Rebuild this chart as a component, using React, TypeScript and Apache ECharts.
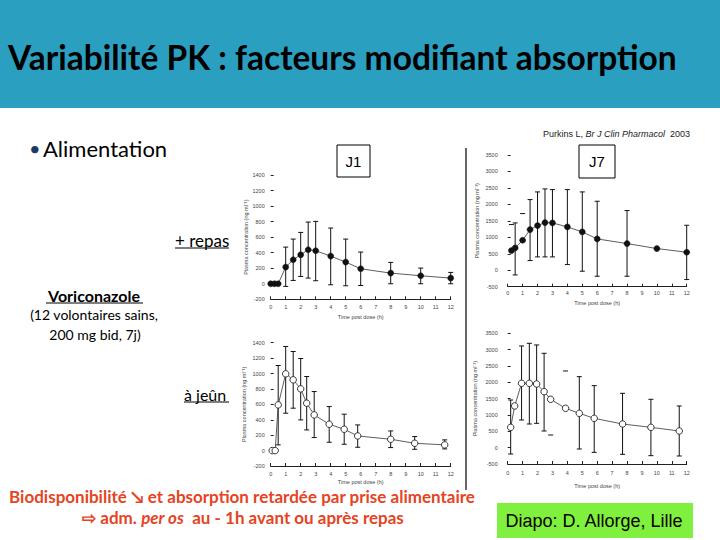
import React, { useEffect, useRef } from "react";
import * as echarts from "echarts";

// ---- Data ----
const hourTicks = [0, 1, 2, 3, 4, 5, 6, 7, 8, 9, 10, 11, 12];

// J1, + repas (fed), day 1
const fedJ1Time = [0, 0.25, 0.5, 1, 1.5, 2, 2.5, 3, 4, 5, 6, 8, 10, 12];
const fedJ1Mean = [0, 0, 0, 215, 309, 373, 438, 425, 356, 279, 193, 137, 103, 73];
const fedJ1Low = [null, null, null, -34, 43, 94, 73, 39, -13, -26, -22, 0, 0, 0];
const fedJ1High = [null, null, null, 472, 575, 661, 794, 803, 717, 575, 408, 275, 202, 146];

// J7, + repas (fed), day 7
const fedJ7Time = [0.25, 0.5, 1, 1.5, 2, 2.5, 3, 4, 5, 6, 8, 10, 12];
const fedJ7Mean = [597, 678, 911, 1235, 1356, 1447, 1437, 1316, 1164, 951, 810, 658, 547];
const fedJ7Low = [null, -142, null, 294, 405, 405, 405, 172, -30, -182, -182, null, -283];
const fedJ7High = [1387, 1437, 1721, 2146, 2379, 2470, 2449, 2449, 2379, 2095, 1812, null, 1366];

// J1, à jeûn (fasted), day 1
const fastJ1Time = [0.1, 0.3, 0.5, 1, 1.5, 2, 2.4, 2.9, 3.9, 4.9, 5.8, 8, 9.6, 11.6];
const fastJ1Mean = [0, 0, 593, 996, 918, 801, 615, 463, 342, 277, 190, 147, 95, 74];
const fastJ1Low = [null, null, 74, 485, 550, 398, 268, 169, 108, 82, 43, 39, 17, 22];
const fastJ1High = [null, null, 1104, 1351, 1286, 1195, 961, 766, 571, 472, 333, 255, 182, 139];

// J7, à jeûn (fasted), day 7
const fastJ7Time = [0.2, 0.47, 0.93, 1.45, 1.94, 2.44, 2.88, 3.88, 4.8, 5.8, 7.7, 9.6, 11.5];
const fastJ7Mean = [622, 1276, 1969, 1969, 1949, 1714, 1480, 1204, 1051, 898, 724, 622, 510];
const fastJ7Low = [-194, null, 847, 724, 745, 510, 388, null, -41, -143, -204, -245, -255];
const fastJ7High = [1459, null, 3112, 3194, 3143, 2888, null, 2347, 2173, 1898, 1663, 1480, 1276];

const yTitle = "Plasma concentration (ng ml\u207B\u00B9)";
const xTitle = "Time post dose (h)";

function errorBars(idx: number, time: number[], mean: number[], low: (number | null)[], high: (number | null)[]) {
  return {
    type: "custom",
    xAxisIndex: idx,
    yAxisIndex: idx,
    silent: true,
    z: 2,
    data: time.map((t, i) => [t, mean[i]]),
    renderItem: (params: any, api: any) => {
      const i = params.dataIndex;
      const x = api.value(0);
      const lo = low[i];
      const hi = high[i];
      const style = { stroke: "#111", lineWidth: 1 };
      const cap = 2.5;
      const children: any[] = [];
      if (lo != null && hi != null) {
        const a = api.coord([x, lo]);
        const b = api.coord([x, hi]);
        children.push({ type: "line", shape: { x1: a[0], y1: a[1], x2: b[0], y2: b[1] }, style });
      }
      [lo, hi].forEach((v) => {
        if (v != null) {
          const p = api.coord([x, v]);
          children.push({ type: "line", shape: { x1: p[0] - cap, y1: p[1], x2: p[0] + cap, y2: p[1] }, style });
        }
      });
      return { type: "group", children };
    },
  };
}

function meanLine(idx: number, time: number[], mean: number[], filled: boolean) {
  return {
    type: "line",
    xAxisIndex: idx,
    yAxisIndex: idx,
    z: 3,
    data: time.map((t, i) => [t, mean[i]]),
    symbol: "circle",
    symbolSize: filled ? 6 : 6.5,
    showSymbol: true,
    lineStyle: { color: "#333", width: 0.8 },
    itemStyle: filled
      ? { color: "#111", borderColor: "#111", borderWidth: 0.5 }
      : { color: "#fff", borderColor: "#222", borderWidth: 0.9 },
  };
}

const axisFont = { fontFamily: "Liberation Sans", fontSize: 5.5, color: "#444" };

function xAx(idx: number, labelMargin: number, nameGap: number) {
  return {
    type: "value",
    gridIndex: idx,
    min: 0,
    max: 12,
    interval: 1,
    axisLine: { show: true, onZero: false, lineStyle: { color: "#222", width: 1 } },
    axisTick: { show: true, inside: true, length: 3, lineStyle: { color: "#222" } },
    axisLabel: { ...axisFont, margin: labelMargin, formatter: (v: number) => (hourTicks.includes(v) ? String(v) : "") },
    splitLine: { show: false },
    name: xTitle,
    nameLocation: "middle",
    nameGap,
    nameTextStyle: axisFont,
  };
}

function yAx(idx: number, min: number, max: number, interval: number, labelMargin: number, nameGap: number) {
  return {
    type: "value",
    gridIndex: idx,
    min,
    max,
    interval,
    axisLine: { show: false },
    axisTick: { show: true, inside: true, length: 3, lineStyle: { color: "#222" } },
    axisLabel: { ...axisFont, margin: labelMargin, formatter: (v: number) => String(v) },
    splitLine: { show: false },
    name: yTitle,
    nameLocation: "middle",
    nameRotate: 90,
    nameGap,
    nameTextStyle: axisFont,
  };
}

const red = "#E5441F";

function txt(x: number, y: number, text: string, font: string, fill = "#000", align = "left", extra: any = {}) {
  return {
    type: "text",
    x,
    y,
    silent: true,
    style: { text, font, fill, align, verticalAlign: "middle", ...extra },
  };
}
function hline(x1: number, x2: number, y: number, w = 1.2, color = "#000") {
  return { type: "line", silent: true, shape: { x1, y1: y, x2, y2: y }, style: { stroke: color, lineWidth: w } };
}

export default function App() {
  const ref = useRef<HTMLDivElement>(null);
  useEffect(() => {
    if (!ref.current) return;
    const chart = echarts.init(ref.current, undefined, { renderer: "svg" });
    const option: any = {
      animation: false,
      backgroundColor: "#fff",
      grid: [
        { left: 270.7, top: 175, width: 180, height: 124.3 },
        { left: 507.7, top: 155, width: 179, height: 131.7 },
        { left: 270.7, top: 342.7, width: 180, height: 123.3 },
        { left: 507.7, top: 333.3, width: 179, height: 130.7 },
      ],
      xAxis: [xAx(0, 5, 15), xAx(1, 3, 13), xAx(2, 5, 13), xAx(3, 6, 19)],
      yAxis: [
        yAx(0, -200, 1400, 200, 6, 22),
        yAx(1, -500, 3500, 500, 10, 28),
        yAx(2, -200, 1400, 200, 6, 24),
        yAx(3, -500, 3500, 500, 10, 30),
      ],
      series: [
        errorBars(0, fedJ1Time, fedJ1Mean, fedJ1Low, fedJ1High),
        meanLine(0, fedJ1Time, fedJ1Mean, true),
        errorBars(1, fedJ7Time, fedJ7Mean, fedJ7Low, fedJ7High),
        meanLine(1, fedJ7Time, fedJ7Mean, true),
        errorBars(2, fastJ1Time, fastJ1Mean, fastJ1Low, fastJ1High),
        meanLine(2, fastJ1Time, fastJ1Mean, false),
        errorBars(3, fastJ7Time, fastJ7Mean, fastJ7Low, fastJ7High),
        meanLine(3, fastJ7Time, fastJ7Mean, false),
      ],
      graphic: [
        { type: "rect", silent: true, z: -10, shape: { x: 0, y: 0, width: 720, height: 108 }, style: { fill: "#2A9FC0" } },
        txt(8, 57, "Variabilité PK : facteurs modifiant absorption", "bold 33.5px Lato", "#000"),
        txt(29, 148, "\u2022", "20px Lato", "#1F3864"),
        txt(43, 148, "Alimentation", "22px Lato", "#000"),
        {
          type: "text",
          x: 690,
          y: 134,
          silent: true,
          style: {
            text: "{n|Purkins L, }{i|Br J Clin Pharmacol}{n|  2003}",
            align: "right",
            verticalAlign: "middle",
            rich: {
              n: { font: "9px 'Liberation Sans'", fill: "#222", color: "#222" },
              i: { font: "italic 9px 'Liberation Sans'", fill: "#222", color: "#222" },
            },
          },
        },
        { type: "rect", silent: true, shape: { x: 337, y: 145, width: 33, height: 32 }, style: { fill: "#fff", stroke: "#000", lineWidth: 1 } },
        txt(353.5, 161, "J1", "15px 'Liberation Sans'", "#000", "center"),
        { type: "rect", silent: true, shape: { x: 579, y: 145, width: 36, height: 33 }, style: { fill: "#fff", stroke: "#000", lineWidth: 1 } },
        txt(597, 161.5, "J7", "15px 'Liberation Sans'", "#000", "center"),
        { type: "line", silent: true, shape: { x1: 466, y1: 148, x2: 466, y2: 490 }, style: { stroke: "#000", lineWidth: 1.2 } },
        txt(175, 240, "+ repas", "17px Lato", "#000"),
        hline(175, 229, 248),
        txt(94, 295, "Voriconazole", "bold 16px Lato", "#000", "center"),
        hline(46, 143, 303),
        txt(94, 314, "(12 volontaires sains,", "14px Lato", "#000", "center"),
        txt(95, 334, "200 mg bid, 7j)", "14px Lato", "#000", "center"),
        txt(184, 394, "à jeûn", "16px Lato", "#000"),
        hline(184, 229, 402),
        txt(242, 496, "Biodisponibilité \u2198 et absorption retardée par prise alimentaire", "bold 17px Lato", red, "center"),
        {
          type: "text",
          x: 243,
          y: 517,
          silent: true,
          style: {
            text: "{b|\u21E8 adm. }{i|per os}{b|  au - 1h avant ou après repas}",
            align: "center",
            verticalAlign: "middle",
            rich: {
              b: { font: "bold 17px Lato", fill: red, color: red },
              i: { font: "italic bold 17px Lato", fill: red, color: red },
            },
          },
        },
        { type: "rect", silent: true, shape: { x: 497, y: 503, width: 196, height: 35 }, style: { fill: "#7FF03E" } },
        txt(594, 520.5, "Diapo: D. Allorge, Lille", "18px 'Liberation Sans'", "#000", "center"),
      ],
    };
    chart.setOption(option);
    return () => chart.dispose();
  }, []);
  return <div ref={ref} style={{ position: "fixed", left: 0, top: 0, width: 720, height: 540 }} />;
}
